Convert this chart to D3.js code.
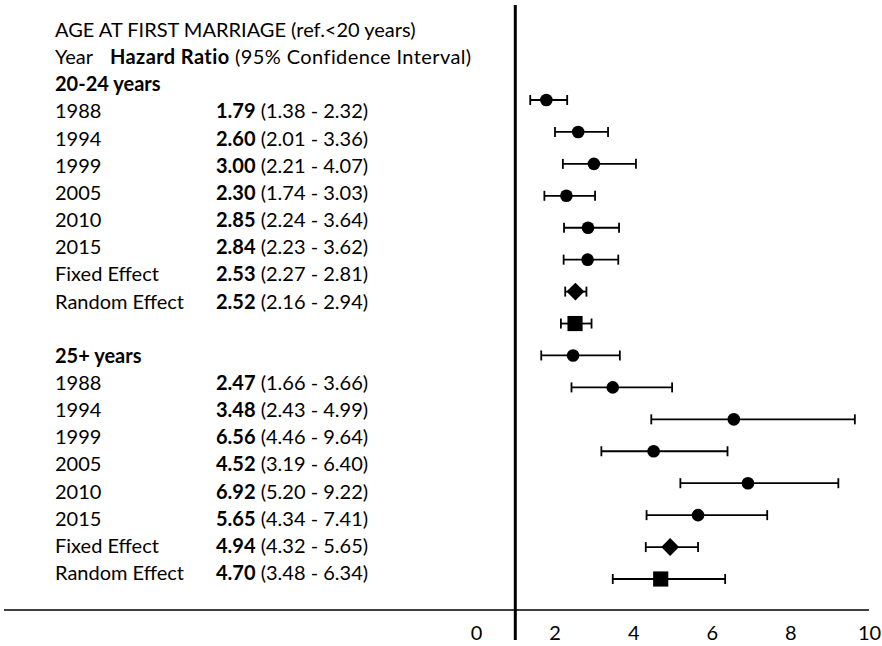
<!DOCTYPE html>
<html>
<head>
<meta charset="utf-8">
<script src="https://cdn.jsdelivr.net/npm/d3@7"></script>
<style>
  body { margin: 0; background: #fff; }
  svg text { font-family: Lato, "Open Sans", sans-serif; fill: #000; }
</style>
</head>
<body>
<svg width="882" height="646"></svg>
<script>
const title = "AGE AT FIRST MARRIAGE (ref.<20 years)"
const groups = ["20-24 years", "25+ years"]
const rowLabels = ["1988", "1994", "1999", "2005", "2010", "2015", "Fixed Effect", "Random Effect"]
const markerShapes = ["circle", "circle", "circle", "circle", "circle", "circle", "diamond", "square"]

const hr2024 = [1.79, 2.60, 3.00, 2.30, 2.85, 2.84, 2.53, 2.52]
const lo2024 = [1.38, 2.01, 2.21, 1.74, 2.24, 2.23, 2.27, 2.16]
const hi2024 = [2.32, 3.36, 4.07, 3.03, 3.64, 3.62, 2.81, 2.94]

const hr25 = [2.47, 3.48, 6.56, 4.52, 6.92, 5.65, 4.94, 4.70]
const lo25 = [1.66, 2.43, 4.46, 3.19, 5.20, 4.34, 4.32, 3.48]
const hi25 = [3.66, 4.99, 9.64, 6.40, 9.22, 7.41, 5.65, 6.34]

const xTicks = [0, 2, 4, 6, 8, 10]
const refValue = 1

const svg = d3.select("svg")
const fs = 20

const x = d3.scaleLinear()
.domain([0, 10])
.range([476, 869])

// text rows (title, header, groups, rows)
const ty = d3.scaleLinear()
.domain([0, 20])
.range([30, 573])

// marker rows: 16 estimates, drawn without gap between groups
const my = d3.scalePoint()
.domain(d3.range(16))
.range([100, 579])

// ---- table text ----
const txt = svg.append("g").attr("font-size", fs)

function line(i, xPos, s, bold) {
  return txt.append("text")
  .attr("x", xPos)
  .attr("y", ty(i))
  .attr("dy", "0.35em")
  .attr("font-weight", bold ? "bold" : "normal")
  .text(s)
}

line(0, 55, title)
line(1, 55, "Year")
const hdr = line(1, 110, "Hazard Ratio", true).attr("letter-spacing", 0.4)
hdr.append("tspan").attr("font-weight", "normal").text(" (95% Confidence Interval)")

const tableRows = []
groups.forEach((g, gi) => {
  const hr = gi === 0 ? hr2024 : hr25
  const lo = gi === 0 ? lo2024 : lo25
  const hi = gi === 0 ? hi2024 : hi25
  const base = gi === 0 ? 2 : 12
  line(base, 55, g, true)
  rowLabels.forEach((lab, i) => {
    line(base + 1 + i, 55, lab)
    const t = line(base + 1 + i, 216, hr[i].toFixed(2), true)
    t.append("tspan").attr("font-weight", "normal")
    .text(` (${lo[i].toFixed(2)} - ${hi[i].toFixed(2)})`)
    tableRows.push({hr: hr[i], lo: lo[i], hi: hi[i], shape: markerShapes[i]})
  })
})

// ---- axes ----
svg.append("line")
.attr("x1", 4)
.attr("x2", x(10))
.attr("y1", 610)
.attr("y2", 610)
.attr("stroke", "#000")
.attr("stroke-width", 1.5)

const ax = svg.append("g")
.attr("transform", "translate(0, 610)")
.call(d3.axisBottom(x).tickValues(xTicks).tickSize(0).tickPadding(16))
ax.select(".domain").remove()
ax.selectAll("text")
.attr("font-size", fs)
.attr("font-family", "Lato, sans-serif")
.attr("fill", "#000")

svg.append("line")
.attr("x1", x(refValue))
.attr("x2", x(refValue))
.attr("y1", 5)
.attr("y2", 640)
.attr("stroke", "#000")
.attr("stroke-width", 3)

// ---- error bars and markers ----
const marks = svg.append("g")
.selectAll("g")
.data(tableRows)
.enter()
.append("g")
.attr("transform", (d, i) => `translate(0, ${my(i)})`)

marks.append("line")
.attr("x1", d => x(d.lo))
.attr("x2", d => x(d.hi))
.attr("stroke", "#000")
.attr("stroke-width", 1.8)

marks.selectAll(".cap")
.data(d => [d.lo, d.hi])
.enter()
.append("line")
.attr("class", "cap")
.attr("x1", v => x(v))
.attr("x2", v => x(v))
.attr("y1", -5)
.attr("y2", 5)
.attr("stroke", "#000")
.attr("stroke-width", 1.8)

const symbolFor = {
  circle: d3.symbol(d3.symbolCircle, 125),
  diamond: d3.symbol(d3.symbolSquare, 160),
  square: d3.symbol(d3.symbolSquare, 230)
}

marks.append("path")
.attr("d", d => symbolFor[d.shape]())
.attr("transform", d => `translate(${x(d.hr)}, 0)` + (d.shape === "diamond" ? " rotate(45)" : ""))
.attr("fill", "#000")
</script>
</body>
</html>
